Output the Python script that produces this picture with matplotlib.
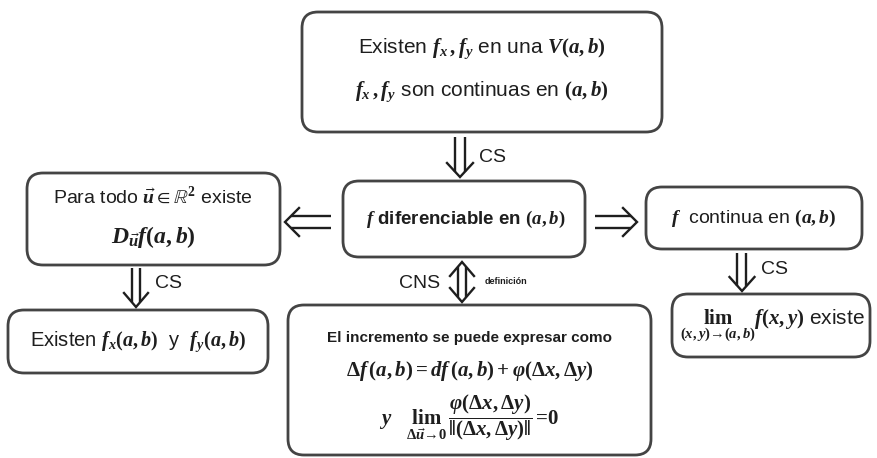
import matplotlib
matplotlib.use("Agg")
import matplotlib.pyplot as plt
from matplotlib.patches import FancyBboxPatch
import numpy as np

plt.rcParams['font.family'] = ['Liberation Sans', 'DejaVu Sans']
plt.rcParams['mathtext.fontset'] = 'custom'
plt.rcParams['mathtext.it'] = 'Liberation Serif:italic:bold'
plt.rcParams['mathtext.rm'] = 'Liberation Serif:bold'
plt.rcParams['mathtext.bf'] = 'Liberation Serif:bold'
plt.rcParams['mathtext.fallback'] = 'stix'

W, H = 878, 458
EDGE = '#444444'
TXT = '#1e1e1e'

# boxes: name -> (left, top, width, height) in pixels
boxes = {
    'top':    (302, 12, 360, 120),
    'left':   (27, 173, 253, 92),
    'center': (343, 181, 242, 76),
    'right':  (646, 187, 216, 62),
    'bl':     (8, 310, 260, 63),
    'bc':     (288, 305, 363, 150),
    'br':     (672, 294, 198, 63),
}

# text lines: (x, y, text, size, weight)
texts = [
    (482, 49, r'Existen $f_x\,,f_y$ en una $V(a,b)$', 15, 'normal'),
    (482, 92, r'$f_x\,,f_y$ son continuas en $(a,b)$', 15, 'normal'),
    (153, 197, r'Para todo $\vec{u}\in\mathbb{R}^2$ existe', 14, 'normal'),
    (153, 237, r'$D_{\vec{u}}f(a,b)$', 17, 'normal'),
    (466, 219, r'$f$ diferenciable en $(a,b)$', 13.5, 'bold'),
    (754, 218, r'$f$  continua en $(a,b)$', 14, 'normal'),
    (138, 342, r'Existen $f_x(a,b)$  y  $f_y(a,b)$', 14.5, 'normal'),
    (470, 338, 'El incremento se puede expresar como', 11, 'bold'),
    (470, 371, r'$\Delta f\,(a,b)=d f\,(a,b)+\varphi(\Delta x,\Delta y)$', 15, 'normal'),
    (469, 418, r'$y\quad\lim_{\Delta\vec{u}\to 0}\,\dfrac{\varphi(\Delta x,\Delta y)}{\Vert(\Delta x,\Delta y)\Vert}\,=0$', 15, 'normal'),
    (772, 326, r'$\lim_{(x,y)\to(a,b)}f(x,y)$ existe', 15, 'normal'),
]

# labels next to arrows: (x, y, text, size, weight)
labels = [
    (493, 158, 'CS', 14, 'normal'),
    (169, 284, 'CS', 14, 'normal'),
    (775, 269, 'CS', 14, 'normal'),
    (420, 283, 'CNS', 14, 'normal'),
    (506, 282, 'definición', 6.5, 'bold'),
]

# double arrows: (x0, y0, x1, y1, gap, both_ends)
arrows = [
    (460, 137, 460, 177, 10, False),
    (136, 268, 136, 307, 8, False),
    (742, 253, 742, 291, 9, False),
    (462, 262, 462, 302, 8, True),
    (331, 222, 285, 222, 12, False),
    (595, 222, 637, 222, 12, False),
]


def double_arrow(ax, x0, y0, x1, y1, gap, both):
    p0 = np.array([x0, y0], float)
    p1 = np.array([x1, y1], float)
    d = (p1 - p0) / np.linalg.norm(p1 - p0)
    n = np.array([-d[1], d[0]])
    head = 14
    half = gap / 2 + 8
    back = head * (gap / 2) / half
    s = p0 + d * back if both else p0
    e = p1 - d * back
    for k in (-1, 1):
        a = s + n * k * gap / 2
        b = e + n * k * gap / 2
        ax.plot([a[0], b[0]], [a[1], b[1]], color=TXT, lw=1.7,
                solid_capstyle='butt')
    tips = [(p1, d)] + ([(p0, -d)] if both else [])
    for tip, dd in tips:
        l = tip - dd * head + n * half
        r = tip - dd * head - n * half
        ax.plot([l[0], tip[0], r[0]], [l[1], tip[1], r[1]], color=TXT,
                lw=1.7, solid_joinstyle='miter')


fig = plt.figure(figsize=(W / 100, H / 100), dpi=100)
ax = fig.add_axes([0, 0, 1, 1])
ax.set_xlim(0, W)
ax.set_ylim(H, 0)
ax.axis('off')

for name, (x, y, w, h) in boxes.items():
    ax.add_patch(FancyBboxPatch((x, y), w, h,
                                boxstyle='round,pad=0,rounding_size=16',
                                fc='white', ec=EDGE, lw=2.0))

for x, y, s, size, wt in texts + labels:
    ax.text(x, y, s, fontsize=size, fontweight=wt, color=TXT,
            ha='center', va='center')

for x0, y0, x1, y1, gap, both in arrows:
    double_arrow(ax, x0, y0, x1, y1, gap, both)

fig.savefig('out.png', dpi=100)
